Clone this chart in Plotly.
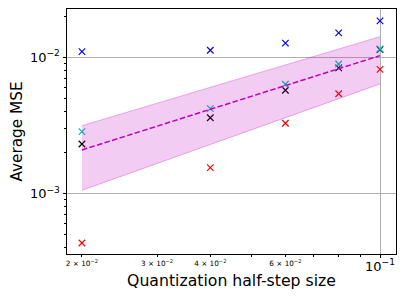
import plotly.graph_objects as go

# Data
x_steps = [0.02, 0.04, 0.06, 0.08, 0.1]
mse_blue = [0.0110, 0.01125, 0.0127, 0.0151, 0.0185]
mse_cyan = [0.00285, 0.0042, 0.00634, 0.00893, 0.0115]
mse_black = [0.00231, 0.00360, 0.00573, 0.00835, 0.0114]
mse_red = [0.000434, 0.00155, 0.00328, 0.0054, 0.00816]

fit_x = [0.02, 0.1]
fit_y = [0.00209, 0.01028]
band_upper = [0.00315, 0.01416]
band_lower = [0.001057, 0.00637]

x_major_vals = [0.1]
x_major_text = ['10<sup>−1</sup>']
x_small_vals = [0.02, 0.03, 0.04, 0.06]
x_small_text = ['2 × 10<sup>−2</sup>', '3 × 10<sup>−2</sup>',
                '4 × 10<sup>−2</sup>', '6 × 10<sup>−2</sup>']
x_minor = [0.05, 0.07, 0.08, 0.09]
y_tickvals = [0.001, 0.01]
y_ticktext = ['10<sup>−3</sup>', '10<sup>−2</sup>']
y_minor = [0.0004, 0.0005, 0.0006, 0.0007, 0.0008, 0.0009,
           0.002, 0.003, 0.004, 0.005, 0.006, 0.007, 0.008, 0.009, 0.02]

MAG = 'rgb(191,0,191)'
XR = [-1.734, -0.9625]

fig = go.Figure()
fig.add_trace(go.Scatter(x=fit_x, y=band_lower, mode='lines', xaxis='x2',
                         line=dict(color='rgba(191,0,191,0.3)', width=1),
                         showlegend=False, hoverinfo='skip'))
fig.add_trace(go.Scatter(x=fit_x, y=band_upper, mode='lines', fill='tonexty', xaxis='x2',
                         fillcolor='rgba(191,0,191,0.2)',
                         line=dict(color='rgba(191,0,191,0.3)', width=1),
                         showlegend=False, hoverinfo='skip'))
fig.add_trace(go.Scatter(x=fit_x, y=fit_y, mode='lines', xaxis='x2',
                         line=dict(color=MAG, width=1.5, dash='5.5px,2.4px'),
                         showlegend=False))

for ys, col in [(mse_blue, '#0000ff'), (mse_red, '#ff0000'),
                (mse_black, '#000000'), (mse_cyan, '#00bfbf')]:
    fig.add_trace(go.Scatter(x=x_steps, y=ys, mode='markers',
                             marker=dict(symbol='x-thin', size=6.5,
                                         line=dict(color=col, width=1.2)),
                             showlegend=False))

fig.update_layout(
    width=407, height=305,
    margin=dict(l=67, r=11, t=9, b=51, autoexpand=False),
    paper_bgcolor='white', plot_bgcolor='white',
    font=dict(family='DejaVu Sans', color='black'),
    xaxis=dict(type='log', range=XR, automargin=False,
               tickmode='array', tickvals=x_major_vals, ticktext=x_major_text,
               tickfont=dict(size=13), ticks='outside', ticklen=3, tickwidth=0.8,
               tickcolor='black', showgrid=True, gridcolor='#b0b0b0', gridwidth=1,
               zeroline=False, ticklabelstandoff=-3,
               showline=True, linecolor='black', linewidth=1, mirror=True,
               title=dict(text='Quantization half-step size', font=dict(size=15.7), standoff=2)),
    xaxis2=dict(type='log', range=XR, overlaying='x', anchor='y', side='bottom',
                automargin=False,
                tickmode='array', tickvals=x_small_vals, ticktext=x_small_text,
                tickfont=dict(size=7.3), ticks='outside', ticklen=2, tickwidth=0.6,
                tickcolor='black', showgrid=False, zeroline=False, showline=False,
                minor=dict(tickmode='array', tickvals=x_minor, ticks='outside',
                           ticklen=2, tickwidth=0.6, tickcolor='black', showgrid=False)),
    yaxis=dict(type='log', range=[-3.443, -1.646], automargin=False,
               tickmode='array', tickvals=y_tickvals, ticktext=y_ticktext,
               tickfont=dict(size=13), ticks='outside', ticklen=3.5, tickwidth=0.8,
               tickcolor='black', showgrid=True, gridcolor='#b0b0b0', gridwidth=1,
               zeroline=False,
               showline=True, linecolor='black', linewidth=1, mirror=True,
               minor=dict(tickmode='array', tickvals=y_minor, ticks='outside',
                          ticklen=2, tickwidth=0.6, tickcolor='black', showgrid=False),
               title=dict(text='Average MSE', font=dict(size=15.3), standoff=3)),
)

fig.write_html('out.html', post_script="document.body.style.margin='0';",
               config={'displayModeBar': False})
